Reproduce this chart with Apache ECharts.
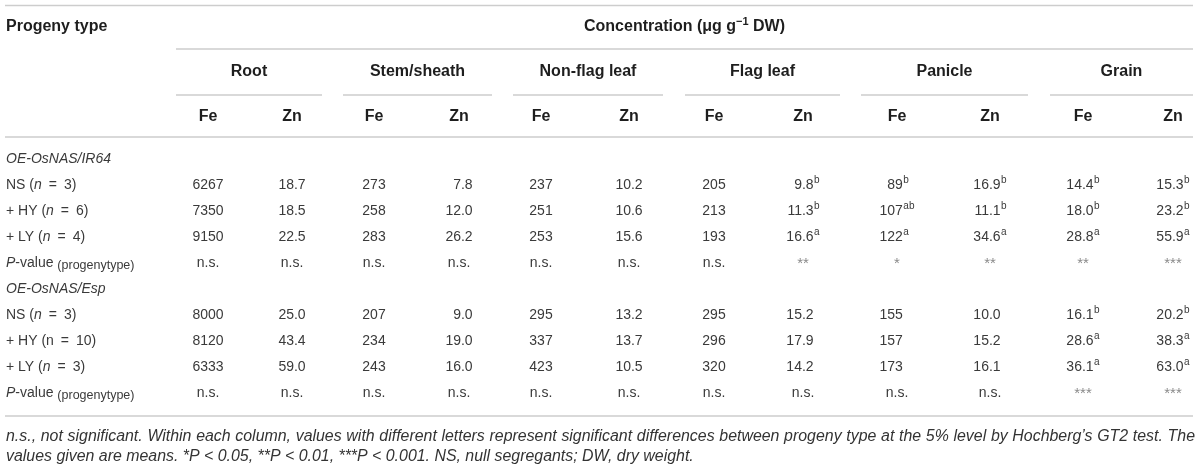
<!DOCTYPE html>
<html><head><meta charset="utf-8">
<script src="https://cdn.jsdelivr.net/npm/echarts@6/dist/echarts.min.js"></script>
<style>html,body{margin:0;padding:0;background:#fff}#c{width:1200px;height:470px}</style>
</head><body><div id="c"></div>
<script>
// ---------------- DATA ----------------
const stubHeader = 'Progeny type';
const spanHeader = 'Concentration';
const groups = ['Root', 'Stem/sheath', 'Non-flag leaf', 'Flag leaf', 'Panicle', 'Grain'];
const elements = ['Fe', 'Zn'];
const lineNames = ['OE-OsNAS/IR64', 'OE-OsNAS/Esp'];
const ir64Labels = ['NS (n = 3)', '+ HY (n = 6)', '+ LY (n = 4)'];
const espLabels = ['NS (n = 3)', '+ HY (n = 10)', '+ LY (n = 3)'];
const ir64ItalicN = [true, true, true];
const espItalicN = [true, false, true];
// column order: Root Fe, Root Zn, Stem Fe, Stem Zn, Nonflag Fe, Nonflag Zn, Flag Fe, Flag Zn, Panicle Fe, Panicle Zn, Grain Fe, Grain Zn
const colDecimals = [0, 1, 0, 1, 0, 1, 0, 1, 0, 1, 1, 1];
const ir64_NS = [6267, 18.7, 273, 7.8, 237, 10.2, 205, 9.8, 89, 16.9, 14.4, 15.3];
const ir64_NS_sig = ['', '', '', '', '', '', '', 'b', 'b', 'b', 'b', 'b'];
const ir64_HY = [7350, 18.5, 258, 12.0, 251, 10.6, 213, 11.3, 107, 11.1, 18.0, 23.2];
const ir64_HY_sig = ['', '', '', '', '', '', '', 'b', 'ab', 'b', 'b', 'b'];
const ir64_LY = [9150, 22.5, 283, 26.2, 253, 15.6, 193, 16.6, 122, 34.6, 28.8, 55.9];
const ir64_LY_sig = ['', '', '', '', '', '', '', 'a', 'a', 'a', 'a', 'a'];
const ir64_P = ['n.s.', 'n.s.', 'n.s.', 'n.s.', 'n.s.', 'n.s.', 'n.s.', '**', '*', '**', '**', '***'];
const esp_NS = [8000, 25.0, 207, 9.0, 295, 13.2, 295, 15.2, 155, 10.0, 16.1, 20.2];
const esp_NS_sig = ['', '', '', '', '', '', '', '', '', '', 'b', 'b'];
const esp_HY = [8120, 43.4, 234, 19.0, 337, 13.7, 296, 17.9, 157, 15.2, 28.6, 38.3];
const esp_HY_sig = ['', '', '', '', '', '', '', '', '', '', 'a', 'a'];
const esp_LY = [6333, 59.0, 243, 16.0, 423, 10.5, 320, 14.2, 173, 16.1, 36.1, 63.0];
const esp_LY_sig = ['', '', '', '', '', '', '', '', '', '', 'a', 'a'];
const esp_P = ['n.s.', 'n.s.', 'n.s.', 'n.s.', 'n.s.', 'n.s.', 'n.s.', 'n.s.', 'n.s.', 'n.s.', '***', '***'];
const footnote1 = 'n.s., not significant. Within each column, values with different letters represent significant differences between progeny type at the 5% level by Hochberg\u2019s GT2 test. The';
const footnote2 = 'values given are means. *P < 0.05, **P < 0.01, ***P < 0.001. NS, null segregants; DW, dry weight.';

// ---------------- LAYOUT ----------------
const W = 1200, H = 470;
const FF = '"Liberation Sans", Arial, Helvetica, sans-serif';
const colX = [208, 292, 374, 459, 541, 629, 714, 803, 897, 990, 1083, 1173];
const groupSpan = [[176, 322], [343, 492], [513, 663], [685, 840], [861, 1028], [1050, 1193]];
const rowY = [159, 185, 211, 237, 263, 289, 315, 341, 367, 393];
const Y_HEAD = 27, Y_GROUP = 72, Y_EL = 117;
const Y_LINE0 = 5.5, Y_LINE1 = 49, Y_GLINE = 95, Y_LINE2 = 137, Y_LINE3 = 416;
const Y_FOOT1 = 437, Y_FOOT2 = 457;
const LEFT = 5, RIGHT = 1193;
const DATA_FS = 14, HEAD_FS = 16, SUP_FS = 10, FOOT_FS = 14, SUB_FS = 12.5;
const DATA_COLOR = '#3a3a3a', HEAD_COLOR = '#1e1e1e', RULE_COLOR = '#cdcdcd';

const ctx = document.createElement('canvas').getContext('2d');
function fontStr(p) { return (p.style || 'normal') + ' ' + (p.weight || 'normal') + ' ' + (p.size || DATA_FS) + 'px ' + FF; }
function tw(s, p) { ctx.font = fontStr(p); return ctx.measureText(s).width; }
function textEl(t, x, y, p) {
  return { type: 'text', silent: true, style: {
    text: t, x: x, y: y, fontSize: p.size || DATA_FS, fontFamily: FF, fontWeight: p.weight || 'normal',
    fontStyle: p.style || 'normal', fill: p.color || DATA_COLOR,
    textAlign: 'left', textVerticalAlign: 'middle', align: 'left', verticalAlign: 'middle' } };
}
// parts: [{t, size, weight, style, dy, color}]
function runEls(parts, x, y, align) {
  const ws = parts.map(p => tw(p.t, p));
  const total = ws.reduce((a, b) => a + b, 0);
  let cur = align === 'center' ? x - total / 2 : align === 'right' ? x - total : x;
  return parts.map((p, i) => { const e = textEl(p.t, cur, y + (p.dy || 0), p); cur += ws[i]; return e; });
}
function rowLabelParts(label, italicN) {
  const k = label.indexOf('(n');
  const rest = label.slice(k + 2).replace(/ = /, '\u2002=\u2002');
  return [
    { t: label.slice(0, k + 1) },
    { t: 'n', style: italicN ? 'italic' : 'normal' },
    { t: rest }
  ];
}

// ---------------- TABLE MODEL ----------------
const bodyRows = [
  { kind: 'group', name: lineNames[0] },
  { kind: 'vals', label: ir64Labels[0], italicN: ir64ItalicN[0], vals: ir64_NS, sig: ir64_NS_sig },
  { kind: 'vals', label: ir64Labels[1], italicN: ir64ItalicN[1], vals: ir64_HY, sig: ir64_HY_sig },
  { kind: 'vals', label: ir64Labels[2], italicN: ir64ItalicN[2], vals: ir64_LY, sig: ir64_LY_sig },
  { kind: 'p', vals: ir64_P },
  { kind: 'group', name: lineNames[1] },
  { kind: 'vals', label: espLabels[0], italicN: espItalicN[0], vals: esp_NS, sig: esp_NS_sig },
  { kind: 'vals', label: espLabels[1], italicN: espItalicN[1], vals: esp_HY, sig: esp_HY_sig },
  { kind: 'vals', label: espLabels[2], italicN: espItalicN[2], vals: esp_LY, sig: esp_LY_sig },
  { kind: 'p', vals: esp_P }
];

// decimal/right alignment anchors per column (block of entries centred in the column)
const anchors = colX.map((cx, c) => {
  let maxMain = 0, maxSup = 0;
  bodyRows.forEach(r => {
    if (r.kind !== 'vals') return;
    maxMain = Math.max(maxMain, tw(r.vals[c].toFixed(colDecimals[c]), {}));
    if (r.sig[c]) maxSup = Math.max(maxSup, tw(r.sig[c], { size: SUP_FS }) + 0.5);
  });
  return cx + (maxMain - maxSup) / 2;
});

// cells for custom series
const cells = [];
bodyRows.forEach((r, ri) => {
  if (r.kind === 'vals' || r.kind === 'p') {
    r.vals.forEach((v, c) => cells.push({ value: [colX[c], rowY[ri]], col: c, row: ri }));
  }
});

function renderCell(params, api) {
  const cell = cells[params.dataIndex];
  const r = bodyRows[cell.row];
  const c = cell.col;
  const pt = api.coord([colX[c], rowY[cell.row]]);
  const children = [];
  if (r.kind === 'vals') {
    const main = r.vals[c].toFixed(colDecimals[c]);
    const ax = api.coord([anchors[c], 0])[0];
    const w = tw(main, {});
    children.push(textEl(main, ax - w, pt[1], {}));
    if (r.sig[c]) children.push(textEl(r.sig[c], ax + 0.5, pt[1] - 5, { size: SUP_FS }));
  } else {
    const t = r.vals[c];
    const isStar = t.indexOf('*') >= 0;
    children.push(...runEls([{ t: t, color: isStar ? '#8a8a8a' : DATA_COLOR, size: isStar ? 15 : DATA_FS, dy: isStar ? 1 : 0 }], pt[0], pt[1], 'center'));
  }
  return { type: 'group', children: children };
}

// ---------------- STATIC STRUCTURE (headers, rules, stub, footnote) ----------------
const g = [];
function rule(x1, x2, y, w) {
  g.push({ type: 'line', silent: true, shape: { x1: x1, y1: y, x2: x2, y2: y }, style: { stroke: RULE_COLOR, lineWidth: w || 1.5 } });
}
rule(LEFT, RIGHT, Y_LINE0, 1.6);
rule(groupSpan[0][0], RIGHT, Y_LINE1);
groupSpan.forEach(s => rule(s[0], s[1], Y_GLINE));
rule(LEFT, RIGHT, Y_LINE2);
rule(LEFT, RIGHT, Y_LINE3);

const HB = { weight: 'bold', size: HEAD_FS, color: HEAD_COLOR };
g.push(...runEls([Object.assign({ t: stubHeader }, HB)], 6, Y_HEAD, 'left'));
g.push(...runEls([
  Object.assign({ t: spanHeader + ' (\u03bcg g' }, HB),
  Object.assign({}, HB, { t: '\u22121', size: 11, dy: -5 }),
  Object.assign({ t: ' DW)' }, HB)
], (groupSpan[0][0] + RIGHT) / 2, Y_HEAD, 'center'));
groups.forEach((name, i) => g.push(...runEls([Object.assign({ t: name }, HB)], (groupSpan[i][0] + groupSpan[i][1]) / 2, Y_GROUP, 'center')));
colX.forEach((x, c) => g.push(...runEls([Object.assign({ t: elements[c % 2] }, HB)], x, Y_EL, 'center')));

bodyRows.forEach((r, ri) => {
  const y = rowY[ri];
  if (r.kind === 'group') g.push(...runEls([{ t: r.name, style: 'italic' }], 6, y, 'left'));
  else if (r.kind === 'vals') g.push(...runEls(rowLabelParts(r.label, r.italicN), 6, y, 'left'));
  else g.push(...runEls([
    { t: 'P', style: 'italic' }, { t: '-value ' }, { t: '(progenytype)', size: SUB_FS, dy: 3 }
  ], 6, y, 'left'));
});

// footnote: size chosen so the first line fills the width, then justified
(function () {
  const base = { style: 'italic', size: FOOT_FS };
  const natural = tw(footnote1, base);
  const fs = Math.min(16, FOOT_FS * (RIGHT - LEFT - 4) / natural);
  const p = { style: 'italic', size: fs, color: '#333' };
  const words = footnote1.split(' ');
  const ws = words.map(w => tw(w, p));
  const sum = ws.reduce((a, b) => a + b, 0);
  const gap = (RIGHT + 1 - LEFT - sum) / (words.length - 1);
  let x = LEFT + 1;
  words.forEach((w, i) => { g.push(textEl(w, x, Y_FOOT1, p)); x += ws[i] + gap; });
  g.push(textEl(footnote2, LEFT + 1, Y_FOOT2, p));
})();

const chart = echarts.init(document.getElementById('c'), null, { renderer: 'canvas' });
chart.setOption({
  animation: false,
  backgroundColor: '#fff',
  grid: { left: 0, right: 0, top: 0, bottom: 0 },
  xAxis: { type: 'value', min: 0, max: W, show: false },
  yAxis: { type: 'value', min: 0, max: H, inverse: true, show: false },
  graphic: { elements: g },
  series: [{
    type: 'custom',
    coordinateSystem: 'cartesian2d',
    renderItem: renderCell,
    data: cells,
    silent: true,
    clip: false
  }]
});
</script>
</body></html>
